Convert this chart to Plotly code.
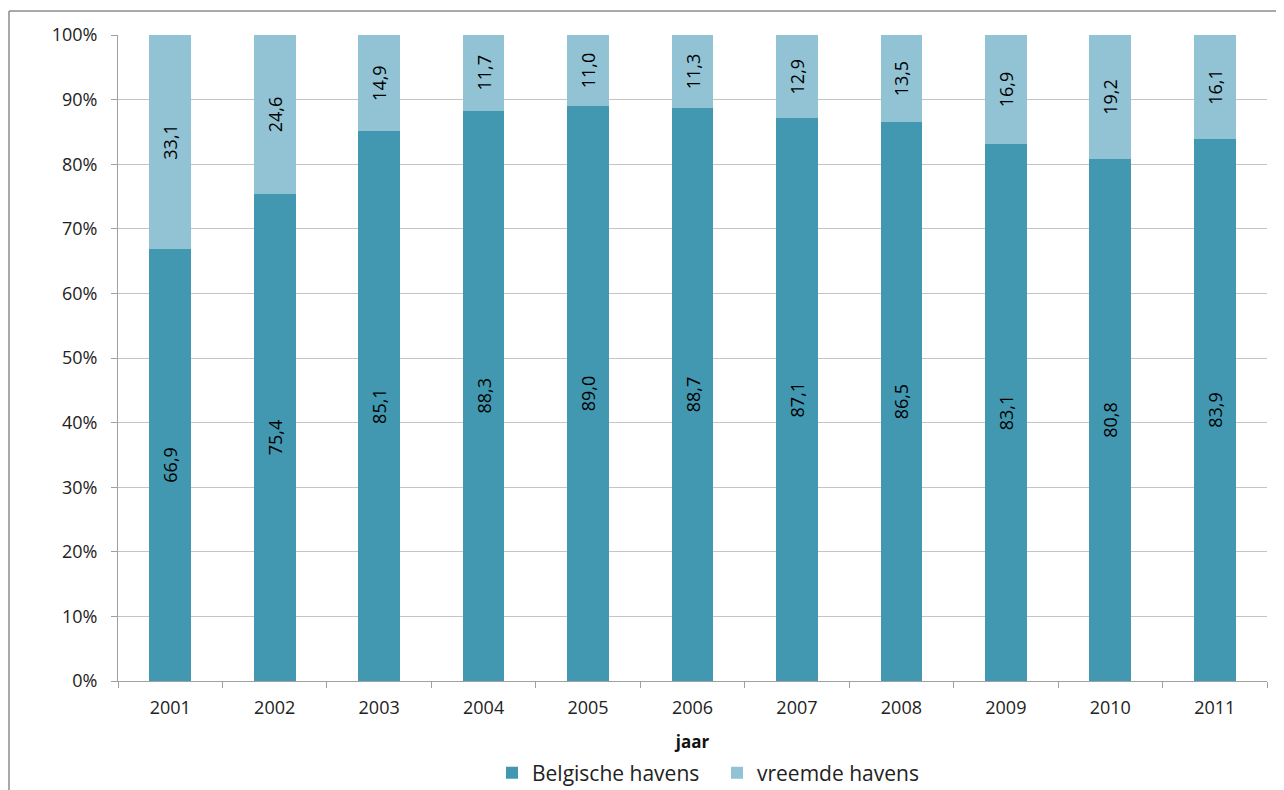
import plotly.graph_objects as go

years = ["2001", "2002", "2003", "2004", "2005", "2006", "2007", "2008", "2009", "2010", "2011"]
belgische = [66.9, 75.4, 85.1, 88.3, 89.0, 88.7, 87.1, 86.5, 83.1, 80.8, 83.9]
vreemde = [33.1, 24.6, 14.9, 11.7, 11.0, 11.3, 12.9, 13.5, 16.9, 19.2, 16.1]
ytick_vals = [0, 10, 20, 30, 40, 50, 60, 70, 80, 90, 100]
ytick_text = [f"{v}%" for v in ytick_vals]

def fmt(v):
    return f"{v:.1f}".replace(".", ",")

FONT = "Open Sans"

# page body has an 8px default margin; compensate in the layout
L, T, B, R = 110, 27, 117, 25
PH = 790 - T - B
PW = 1284 - L - R

fig = go.Figure()
fig.add_trace(go.Bar(
    x=years, y=belgische, name="Belgische havens",
    marker=dict(color="#4298B0", line=dict(width=0)),
    text=[fmt(v) for v in belgische], textposition="inside",
    textangle=-90, insidetextanchor="middle",
    textfont=dict(color="black", size=18, family=FONT),
))
fig.add_trace(go.Bar(
    x=years, y=vreemde, name="vreemde havens",
    marker=dict(color="#92C3D5", line=dict(width=0)),
    text=[fmt(v) for v in vreemde], textposition="inside",
    textangle=-90, insidetextanchor="middle",
    textfont=dict(color="black", size=18, family=FONT),
))

fig.update_layout(
    barmode="stack",
    bargap=0.6,
    width=1284, height=790,
    margin=dict(l=L, r=R, t=T, b=B, autoexpand=False),
    plot_bgcolor="white", paper_bgcolor="white",
    font=dict(family=FONT, color="#222222", size=18),
    uniformtext=dict(minsize=18, mode="show"),
    xaxis=dict(
        type="category", tickson="boundaries", ticks="outside", ticklen=6,
        tickcolor="#A0A0A0", showline=True, linecolor="#A0A0A0", linewidth=1,
        tickfont=dict(size=18, color="#222222"), ticklabelstandoff=10,
        title=dict(text="<b>jaar</b>", font=dict(size=17, color="#111111"), standoff=18),
        showgrid=False, automargin=False,
    ),
    yaxis=dict(
        range=[0, 100], tickvals=ytick_vals, ticktext=ytick_text,
        ticks="outside", ticklen=6, tickcolor="#A0A0A0",
        showline=True, linecolor="#A0A0A0", linewidth=1,
        showgrid=True, gridcolor="#C4C4C4", gridwidth=1,
        tickfont=dict(size=18, color="#222222"), zeroline=False,
        ticklabelstandoff=10, automargin=False,
    ),
    legend=dict(
        orientation="h", x=(507 - 8 - L - 15) / PW, xanchor="left",
        y=-92 / PH, yanchor="middle",
        font=dict(size=21, color="#222222"), traceorder="normal",
        itemwidth=30, entrywidth=180, entrywidthmode="pixels",
    ),
    shapes=[
        dict(type="line", xref="paper", yref="paper",
             x0=(1 - L) / PW, x1=(1300 - L) / PW,
             y0=(PH + T - 3) / PH, y1=(PH + T - 3) / PH,
             line=dict(color="#8C8C8C", width=1.5)),
        dict(type="line", xref="paper", yref="paper",
             x0=(1 - L) / PW, x1=(1 - L) / PW,
             y0=(PH + T - 3) / PH, y1=-200 / PH,
             line=dict(color="#8C8C8C", width=1.5)),
    ],
)

fig.write_html("out.html")
